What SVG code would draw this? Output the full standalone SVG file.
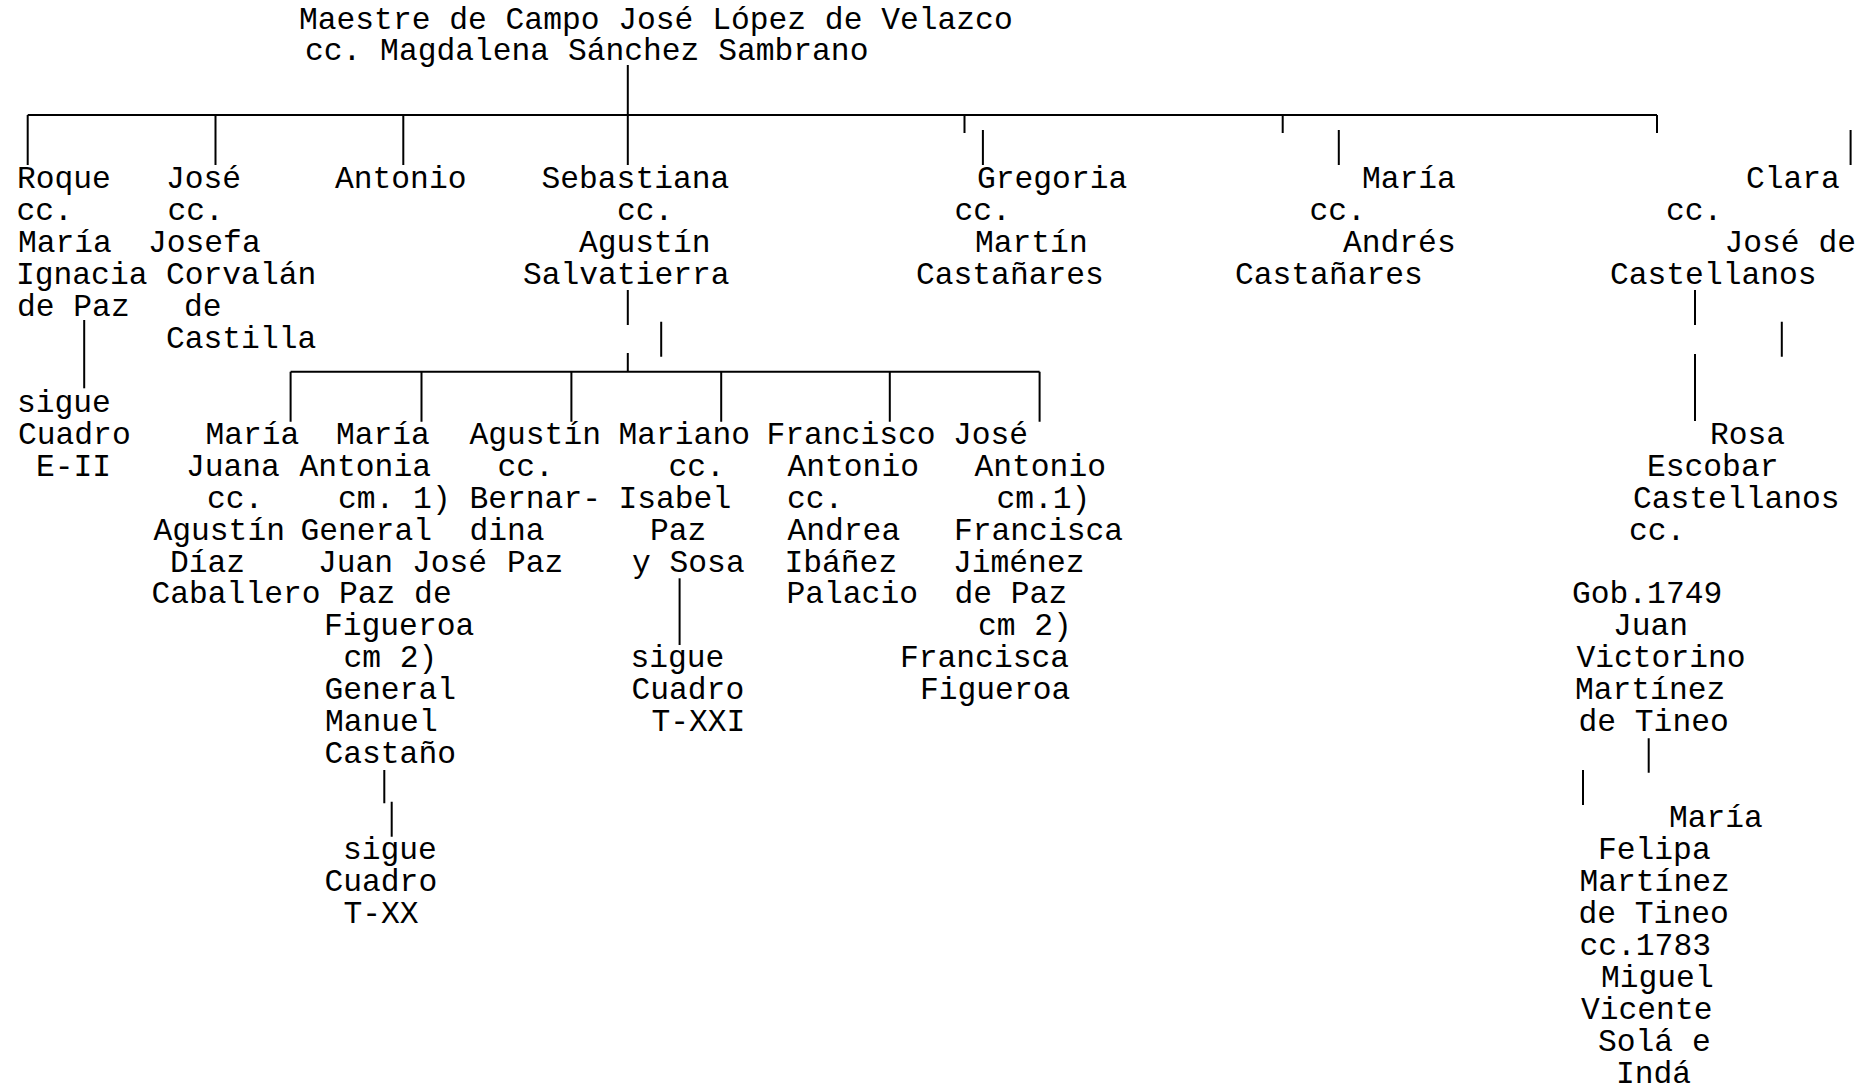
<svg xmlns="http://www.w3.org/2000/svg" width="1862" height="1090" viewBox="0 0 1862 1090">
<style>
text{font-family:"Liberation Mono","Courier New",monospace;font-size:31.3px;fill:#000}
.c{stroke:#000;stroke-width:2;fill:none}
</style>
<rect width="1862" height="1090" fill="#fff"/>
<g id="connectors" class="c">
<path d="M627.8 65V165"/>
<path d="M27.7 115H1657"/>
<path d="M27.7 115V165M215.5 115V165M403.3 115V165"/>
<path d="M964.5 115V133M982.9 130V165"/>
<path d="M1282.7 115V133M1338.8 130V165"/>
<path d="M1657 115V133M1850.6 130V165"/>
<path d="M84.2 320V388.3"/>
<path d="M627.8 290V325M661.2 321.7V356.7M627.8 353V371.7"/>
<path d="M290.6 371.7H1039.6"/>
<path d="M290.6 371.7V421.7M421.5 371.7V421.7M571.4 371.7V421.7M721.2 371.7V421.7M889.8 371.7V421.7M1039.6 371.7V421.7"/>
<path d="M679.6 578.3V645"/>
<path d="M384.3 770V803.3M391.7 801.7V836.7"/>
<path d="M1695 290V325M1781.8 321.7V356.7M1695 354V421"/>
<path d="M1648.7 738.3V772.7M1583 770V805"/>
</g>
<g id="n-root">
<text x="299" y="28.5">Maestre de Campo José López de Velazco</text>
<text x="305" y="60.4">cc. Magdalena Sánchez Sambrano</text>
</g>
<g id="n-roque">
<text x="17" y="188.2">Roque</text>
<text x="16.5" y="220.1">cc.</text>
<text x="18" y="252.1">María</text>
<text x="16" y="284">Ignacia</text>
<text x="17" y="316">de Paz</text>
</g>
<g id="n-roque-sigue">
<text x="17" y="411.8">sigue</text>
<text x="18" y="443.7">Cuadro</text>
<text x="36" y="475.7">E-II</text>
</g>
<g id="n-jose">
<text x="166" y="188.2">José</text>
<text x="167.5" y="220.1">cc.</text>
<text x="148" y="252.1">Josefa</text>
<text x="166" y="284">Corvalán</text>
<text x="184" y="316">de</text>
<text x="166" y="347.9">Castilla</text>
</g>
<g id="n-antonio">
<text x="335" y="188.2">Antonio</text>
</g>
<g id="n-sebastiana">
<text x="541.5" y="188.2">Sebastiana</text>
<text x="617" y="220.1">cc.</text>
<text x="579" y="252.1">Agustín</text>
<text x="523" y="284">Salvatierra</text>
</g>
<g id="n-gregoria">
<text x="977" y="188.2">Gregoria</text>
<text x="954.5" y="220.1">cc.</text>
<text x="975" y="252.1">Martín</text>
<text x="916" y="284">Castañares</text>
</g>
<g id="n-maria">
<text x="1362" y="188.2">María</text>
<text x="1309.5" y="220.1">cc.</text>
<text x="1343" y="252.1">Andrés</text>
<text x="1235" y="284">Castañares</text>
</g>
<g id="n-clara">
<text x="1746" y="188.2">Clara</text>
<text x="1666" y="220.1">cc.</text>
<text x="1724.5" y="252.1">José de</text>
<text x="1610" y="284">Castellanos</text>
</g>
<g id="n-maria-juana">
<text x="205.5" y="443.7">María</text>
<text x="186" y="475.7">Juana</text>
<text x="207" y="507.6">cc.</text>
<text x="153.5" y="539.5">Agustín</text>
<text x="170" y="571.5">Díaz</text>
<text x="151.5" y="603.4">Caballero</text>
</g>
<g id="n-maria-antonia">
<text x="336" y="443.7">María</text>
<text x="299.5" y="475.7">Antonia</text>
<text x="338" y="507.6">cm. 1)</text>
<text x="300.5" y="539.5">General</text>
<text x="318" y="571.5">Juan José</text>
<text x="339" y="603.4">Paz de</text>
<text x="324" y="635.4">Figueroa</text>
<text x="343.5" y="667.3">cm 2)</text>
<text x="324.5" y="699.2">General</text>
<text x="325" y="731.2">Manuel</text>
<text x="324.5" y="763.1">Castaño</text>
</g>
<g id="n-antonia-sigue">
<text x="343" y="858.9">sigue</text>
<text x="324.5" y="890.9">Cuadro</text>
<text x="343.5" y="922.8">T-XX</text>
</g>
<g id="n-agustin">
<text x="469.5" y="443.7">Agustín</text>
<text x="497.5" y="475.7">cc.</text>
<text x="469.5" y="507.6">Bernar-</text>
<text x="469.5" y="539.5">dina</text>
<text x="507" y="571.5">Paz</text>
</g>
<g id="n-mariano">
<text x="618.5" y="443.7">Mariano</text>
<text x="668.5" y="475.7">cc.</text>
<text x="618.5" y="507.6">Isabel</text>
<text x="650" y="539.5">Paz</text>
<text x="632" y="571.5">y Sosa</text>
</g>
<g id="n-mariano-sigue">
<text x="630.5" y="667.3">sigue</text>
<text x="631.5" y="699.2">Cuadro</text>
<text x="651.5" y="731.2">T-XXI</text>
</g>
<g id="n-francisco">
<text x="766.5" y="443.7">Francisco</text>
<text x="787.5" y="475.7">Antonio</text>
<text x="787" y="507.6">cc.</text>
<text x="787.5" y="539.5">Andrea</text>
<text x="784.5" y="571.5">Ibáñez</text>
<text x="786.5" y="603.4">Palacio</text>
</g>
<g id="n-jose-antonio">
<text x="953" y="443.7">José</text>
<text x="974.5" y="475.7">Antonio</text>
<text x="996.5" y="507.6">cm.1)</text>
<text x="954" y="539.5">Francisca</text>
<text x="953" y="571.5">Jiménez</text>
<text x="954.5" y="603.4">de Paz</text>
<text x="978" y="635.4">cm 2)</text>
<text x="900" y="667.3">Francisca</text>
<text x="920" y="699.2">Figueroa</text>
</g>
<g id="n-rosa">
<text x="1710" y="443.7">Rosa</text>
<text x="1647" y="475.7">Escobar</text>
<text x="1633" y="507.6">Castellanos</text>
<text x="1629" y="539.5">cc.</text>
<text x="1572" y="603.4">Gob.1749</text>
<text x="1613" y="635.4">Juan</text>
<text x="1576.5" y="667.3">Victorino</text>
<text x="1575" y="699.2">Martínez</text>
<text x="1578.5" y="731.2">de Tineo</text>
</g>
<g id="n-maria-felipa">
<text x="1669" y="827">María</text>
<text x="1598" y="858.9">Felipa</text>
<text x="1579.5" y="890.9">Martínez</text>
<text x="1578.5" y="922.8">de Tineo</text>
<text x="1579.5" y="954.8">cc.1783</text>
<text x="1601" y="986.7">Miguel</text>
<text x="1581" y="1018.6">Vicente</text>
<text x="1598" y="1050.6">Solá e</text>
<text x="1616" y="1082.5">Indá</text>
</g>
</svg>
